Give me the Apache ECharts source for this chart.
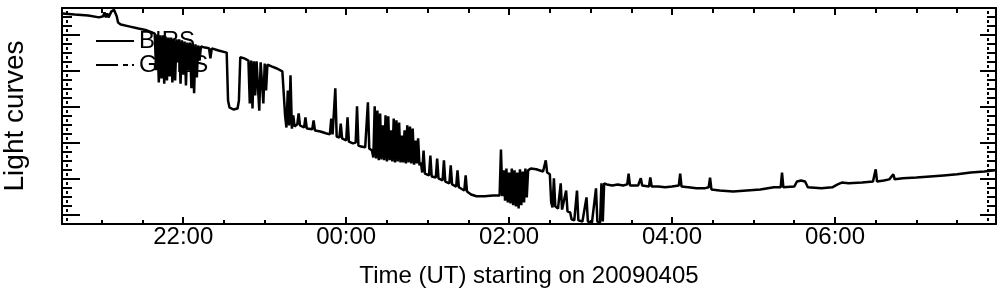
<!DOCTYPE html>
<html>
<head>
<meta charset="utf-8">
<title>Light curves</title>
<script src="https://cdn.jsdelivr.net/npm/echarts@6/dist/echarts.min.js"></script>
<style>
html, body { margin: 0; padding: 0; background: #fff; }
#chartView { width: 1004px; height: 296px; }
</style>
</head>
<body>
<div id="chartView"></div>
<script>
// BIRS light curve (UT time, relative flux)
var times = [
	"20:31","20:40","20:50","20:58","21:01","21:02","21:03","21:04","21:05","21:07","21:09","21:10","21:11","21:12","21:14","21:20","21:27","21:33","21:37",
	"21:39","21:40","21:41","21:42","21:43","21:44","21:45","21:46","21:47","21:48","21:49","21:50","21:51","21:52","21:53","21:54","21:55","21:56","21:57","21:58",
	"21:59","22:00","22:01","22:02","22:03","22:04","22:05","22:06","22:07","22:08","22:09","22:10","22:11","22:12","22:13",
	"22:16","22:19","22:20","22:21","22:26","22:32","22:33","22:34","22:37","22:40","22:41","22:42","22:45","22:48",
	"22:49","22:50","22:51","22:52","22:53","22:54","22:56","22:57","22:59","23:00","23:01","23:02",
	"23:05","23:09","23:13","23:14","23:15","23:16","23:17","23:18","23:19","23:20","23:21","23:22","23:24","23:25","23:26","23:29","23:30","23:31",
	"23:35","23:36","23:37","23:41","23:45","23:48","23:49","23:50","23:52","23:53","23:55","23:56","23:57",
	"00:00","00:01","00:02","00:05","00:07","00:08","00:09","00:11","00:14","00:16","00:17","00:19",
	"00:20","00:21","00:22","00:23","00:24","00:25","00:26","00:27","00:28","00:29","00:30","00:31","00:32","00:33","00:34","00:35","00:36","00:37",
	"00:38","00:39","00:40","00:41","00:42","00:43","00:44","00:45","00:46","00:47","00:48","00:49","00:50","00:51","00:52","00:53","00:54",
	"00:55","00:56","00:57","00:58","01:01","01:02","01:03","01:06","01:07","01:08","01:11","01:12","01:13","01:16","01:17","01:18","01:21","01:22","01:23",
	"01:27","01:28","01:29","01:32","01:36","01:42","01:48","01:53",
	"01:54","01:55","01:56","01:57","01:58","01:59","02:00","02:01","02:02","02:03","02:04","02:05","02:06","02:07","02:08","02:09","02:10","02:11","02:12","02:13","02:14",
	"02:16","02:20","02:25","02:27","02:28","02:30","02:31","02:32","02:33","02:34","02:36","02:38","02:39","02:42","02:43","02:45","02:46","02:48","02:50","02:51",
	"02:54","02:57","02:58","03:01","03:04","03:05","03:07","03:08","03:09","03:10",
	"03:12","03:16","03:20","03:24","03:27","03:28","03:29","03:35","03:37","03:38","03:43","03:44","03:45","03:50","03:55","04:00","04:05","04:06","04:07",
	"04:12","04:18","04:24","04:27","04:28","04:29","04:35","04:45","04:55","05:05","05:15","05:20","05:21","05:22","05:30","05:32","05:35","05:38","05:40",
	"05:50","05:58","06:02","06:05","06:10","06:20","06:28","06:30","06:31","06:36","06:40","06:43","06:44","06:50","07:00","07:10","07:20","07:30","07:40","07:50","07:58"
];
var birs = [
	6.60,6.57,6.54,6.49,6.52,6.63,6.49,6.60,6.49,6.65,6.70,6.66,6.52,6.35,6.29,6.24,6.18,6.13,6.07,
	6.04,5.02,6.02,4.68,5.99,4.79,5.99,4.65,5.96,4.74,5.93,4.85,5.93,4.68,5.90,4.74,5.88,5.24,5.88,4.65,
	5.85,4.90,5.82,4.60,5.79,5.02,5.79,4.52,5.77,4.38,5.74,4.82,5.71,5.29,5.68,
	5.65,5.63,5.35,5.63,5.57,5.51,4.18,3.99,3.93,3.96,4.18,5.38,5.35,5.29,
	4.10,5.29,3.96,5.27,4.32,5.27,3.90,5.24,4.10,5.21,4.46,5.18,
	5.13,5.07,4.99,4.96,3.77,3.43,4.46,3.49,4.88,3.40,3.77,3.46,3.52,3.82,3.49,3.43,3.71,3.40,
	3.38,3.63,3.35,3.32,3.27,3.24,3.68,3.24,4.52,3.18,3.15,3.54,3.13,
	3.07,3.71,3.04,2.99,3.01,4.02,2.93,2.90,2.88,4.13,2.85,2.79,
	2.60,4.02,2.57,3.90,2.52,3.82,2.54,3.49,2.52,3.77,2.49,3.74,2.52,3.35,2.49,3.68,2.46,3.63,
	2.49,3.57,2.46,3.21,2.46,3.35,2.43,3.49,2.46,3.46,2.43,3.40,2.40,3.07,2.43,3.13,2.38,
	2.46,2.18,2.79,2.15,2.10,2.65,2.07,2.04,2.57,2.02,1.96,2.52,1.93,1.88,2.38,1.85,1.79,2.24,1.77,
	1.68,2.10,1.65,1.57,1.52,1.52,1.54,1.54,
	2.82,1.52,2.24,1.40,2.29,1.35,2.18,1.32,2.29,1.27,2.24,1.24,2.18,1.18,2.27,1.27,2.21,1.35,2.29,1.49,2.24,
	2.29,2.27,2.21,2.52,2.18,2.13,1.35,1.21,2.02,1.24,1.18,1.88,1.15,1.68,1.10,1.07,0.88,0.85,1.68,0.85,
	0.82,1.49,0.82,0.79,1.74,0.82,0.79,1.88,0.82,1.88,
	1.85,1.82,1.85,1.82,1.85,2.15,1.82,1.82,2.02,1.82,1.79,2.04,1.79,1.79,1.77,1.79,1.82,2.15,1.79,
	1.77,1.74,1.74,1.77,2.04,1.71,1.68,1.65,1.68,1.71,1.77,1.77,2.18,1.77,1.79,1.93,1.96,1.93,1.77,
	1.74,1.77,1.85,1.90,1.88,1.90,1.93,2.27,1.93,1.96,1.99,2.13,1.99,2.02,2.04,2.07,2.10,2.13,2.18,2.21,2.24
];
// GOES has no points inside this window, only its legend entry
var goesTimes = [];
var goes = [];

var xMajorTicks = ["22:00","00:00","02:00","04:00","06:00"];
var xMinorTicks = ["21:00","21:30","22:30","23:00","23:30","00:30","01:00","01:30","02:30","03:00","03:30",
	"04:30","05:00","05:30","06:30","07:00","07:30"];
var yMajorTicks = [1, 2, 3, 4, 5, 6];
var yMinorTicks = [1.25,1.5,1.75,2.25,2.5,2.75,3.25,3.5,3.75,4.25,4.5,4.75,5.25,5.5,5.75,6.25,6.5];
var yDotTicks = [0.875,1.125,1.375,1.625,1.875,2.125,2.375,2.625,2.875,3.125,3.375,3.625,3.875,
	4.125,4.375,4.625,4.875,5.125,5.375,5.625,5.875,6.125,6.375,6.625];

var fontName = 'Liberation Sans, Arial, Helvetica, sans-serif';
var tMin = 1230.7, tMax = 1918.6;
var yMin = 0.75, yMax = 6.75;

// "HH:MM" -> minutes from 00:00 of 20090405 (after midnight rolls to next day)
function toMinutes(s){
	var p = s.split(':');
	var h = parseInt(p[0], 10);
	if(h < 12){
		h += 24;
	}
	return h * 60 + parseInt(p[1], 10);
}
function fmtTime(v){
	var h = Math.round(v / 60) % 24;
	return (h < 10 ? '0' : '') + h + ':00';
}
function pairs(ts, vs){
	var out = [];
	for (var i = 0; i < ts.length; i++) {
		out.push([toMinutes(ts[i]), vs[i]]);
	}
	return out;
}

function xAxisDef(pos, ticks, len, showLine){
	return {
		type: 'value', position: pos, min: tMin, max: tMax,
		splitLine: {show: false},
		axisLine: {show: showLine, onZero: false, lineStyle: {color: '#000', width: 2}},
		axisTick: {show: true, inside: true, length: len, customValues: ticks.map(toMinutes),
			lineStyle: {color: '#000', width: 2}},
		axisLabel: {show: false}
	};
}
function yAxisDef(pos, ticks, len, showLine, offset, width){
	return {
		type: 'value', position: pos, min: yMin, max: yMax, offset: offset || 0,
		splitLine: {show: false},
		axisLine: {show: showLine, onZero: false, lineStyle: {color: '#000', width: 2}},
		axisTick: {show: true, inside: true, length: len, customValues: ticks,
			lineStyle: {color: '#000', width: width || 2}},
		axisLabel: {show: false}
	};
}

var chart = echarts.init(document.getElementById('chartView'));

var xMain = xAxisDef('bottom', xMajorTicks, 7, true);
xMain.axisLabel = {
	show: true, customValues: xMajorTicks.map(toMinutes), formatter: fmtTime,
	color: '#000', fontSize: 24, fontFamily: fontName, margin: 1
};
xMain.name = 'Time (UT) starting on 20090405';
xMain.nameLocation = 'middle';
xMain.nameGap = 40;
xMain.nameTextStyle = {color: '#000', fontSize: 24, fontFamily: fontName};

var yMain = yAxisDef('left', yMajorTicks, 18, true);
yMain.name = 'Light curves';
yMain.nameLocation = 'middle';
yMain.nameGap = 33;
yMain.nameTextStyle = {color: '#000', fontSize: 28, fontFamily: fontName};

var option = {
	animation: false,
	backgroundColor: '#fff',
	color: ['#000', '#000'],
	grid: {left: 62, top: 8, width: 934, height: 216, containLabel: false, outerBoundsMode: 'none'},
	legend: {
		orient: 'vertical', left: 95, top: 29, padding: 0,
		itemWidth: 38, itemHeight: 14, itemGap: 0,
		// line only, no marker in the key
		itemStyle: {color: 'rgba(0,0,0,0)', borderWidth: 0, opacity: 0},
		textStyle: {color: '#000', fontSize: 24, fontFamily: fontName, lineHeight: 22},
		data: ['BIRS', 'GOES']
	},
	xAxis: [
		xMain,
		xAxisDef('bottom', xMinorTicks, 4, false),
		xAxisDef('top', xMajorTicks, 7, true),
		xAxisDef('top', xMinorTicks, 5, false)
	],
	yAxis: [
		yMain,
		yAxisDef('left', yMinorTicks, 10, false),
		yAxisDef('left', yDotTicks, 2, false, -4, 3),
		yAxisDef('right', yMajorTicks, 16, true),
		yAxisDef('right', yMinorTicks, 9, false),
		yAxisDef('right', yDotTicks, 2, false, -7, 3)
	],
	series: [
		{
			name: 'BIRS', type: 'line', xAxisIndex: 0, yAxisIndex: 0,
			data: pairs(times, birs), symbol: 'none', showSymbol: false,
			sampling: null, clip: true,
			itemStyle: {color: '#000'},
			lineStyle: {color: '#000', width: 2.5}
		},
		{
			name: 'GOES', type: 'line', xAxisIndex: 0, yAxisIndex: 0,
			data: pairs(goesTimes, goes), symbol: 'none', showSymbol: false,
			itemStyle: {color: '#000'},
			lineStyle: {color: '#000', width: 2, type: [22, 5, 5, 4, 2, 10]}
		}
	]
};

chart.setOption(option);
</script>
</body>
</html>
